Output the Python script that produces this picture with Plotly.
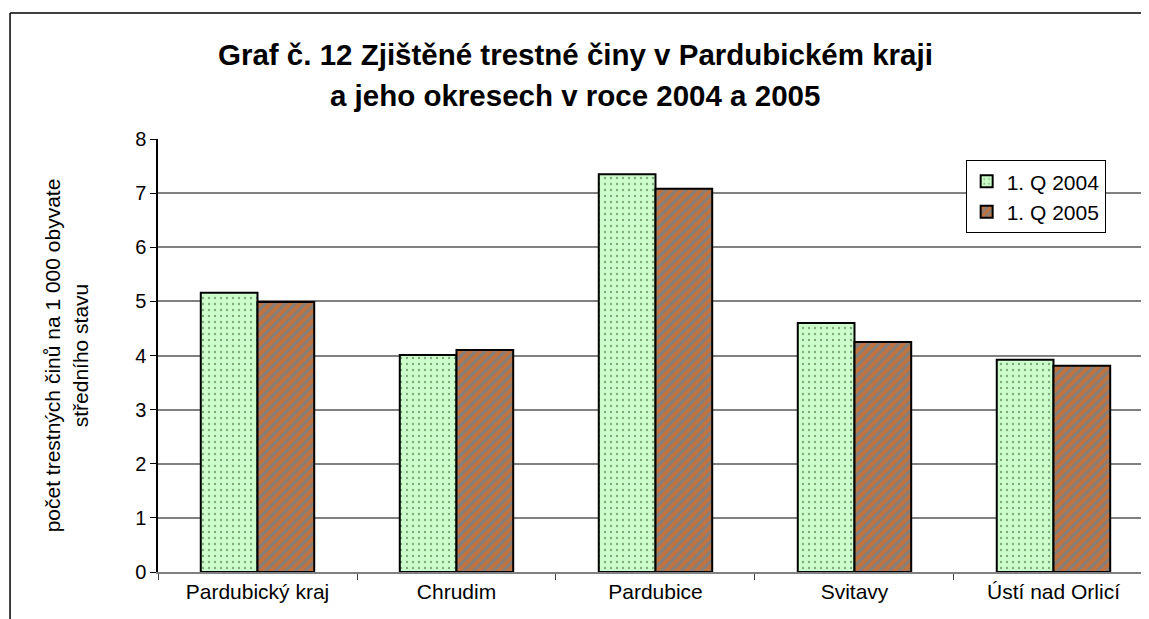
import plotly.graph_objects as go

categories = ["Pardubický kraj", "Chrudim", "Pardubice", "Svitavy", "Ústí nad Orlicí"]
q2004 = [5.16, 4.01, 7.35, 4.60, 3.92]
q2005 = [4.99, 4.10, 7.08, 4.25, 3.81]
series_names = ["1. Q 2004", "1. Q 2005"]
y_ticks = [0, 1, 2, 3, 4, 5, 6, 7, 8]
title_lines = ["Graf č. 12 Zjištěné trestné činy v Pardubickém kraji",
               "a jeho okresech v roce 2004 a 2005"]

FONT = "Liberation Sans, Arial, sans-serif"

fig = go.Figure()
fig.add_trace(go.Bar(
    x=categories, y=q2004, name=series_names[0],
    marker=dict(
        color="#CCFFCC",
        line=dict(color="black", width=2),
        pattern=dict(shape=".", fillmode="overlay", fgcolor="#2f4f2f",
                     bgcolor="#CCFFCC", size=6, solidity=0.12),
    ),
))
fig.add_trace(go.Bar(
    x=categories, y=q2005, name=series_names[1],
    marker=dict(
        color="#808080",
        line=dict(color="black", width=2),
        pattern=dict(shape="/", fillmode="overlay", fgcolor="#FF6600",
                     bgcolor="#808080", size=7, solidity=0.6),
    ),
))

fig.update_layout(
    width=1141, height=611,
    margin=dict(l=150, r=0, t=131, b=47),
    paper_bgcolor="white", plot_bgcolor="white",
    font=dict(family=FONT, size=20, color="black"),
    bargap=0.43, bargroupgap=0,
    barmode="group",
    legend=dict(
        x=0.815, y=0.951, xanchor="left", yanchor="top",
        bordercolor="black", borderwidth=1, bgcolor="white",
        font=dict(family=FONT, size=21),
        tracegroupgap=0,
    ),
    xaxis=dict(
        type="category", range=[-0.5, 4.48],
        showline=True, linecolor="#808080", linewidth=2,
        ticks="outside", tickson="boundaries", ticklen=6, tickcolor="#404040",
        showgrid=False, tickfont=dict(family=FONT, size=21),
    ),
    yaxis=dict(
        range=[0, 8], tickvals=y_ticks,
        showline=True, linecolor="black", linewidth=1.5,
        ticks="outside", ticklen=6, tickcolor="black",
        showgrid=True, gridcolor="#808080", gridwidth=1.5,
        zeroline=False,
        tickfont=dict(family=FONT, size=20),
        title=dict(text="počet trestných činů na 1 000 obyvate<br>středního stavu",
                   font=dict(family=FONT, size=21), standoff=41),
    ),
    showlegend=True,
)

# two-line title placed as annotations (line spacing of the original)
for txt, yp in zip(title_lines, [1.194, 1.1016]):
    fig.add_annotation(text="<b>" + txt + "</b>", xref="paper", yref="paper",
                       x=0.4208, y=yp, xanchor="center", yanchor="middle",
                       showarrow=False,
                       font=dict(family=FONT, size=29.5, color="black"))

# outer chart-area border (partly cropped in the reference)
fig.add_shape(type="line", xref="paper", yref="paper",
              x0=-0.1493, x1=-0.1493, y0=1.291, y1=-0.2,
              line=dict(color="black", width=1.5))
fig.add_shape(type="line", xref="paper", yref="paper",
              x0=-0.1493, x1=1.05, y0=1.291, y1=1.291,
              line=dict(color="black", width=1.5))

fig.write_html("out.html")
